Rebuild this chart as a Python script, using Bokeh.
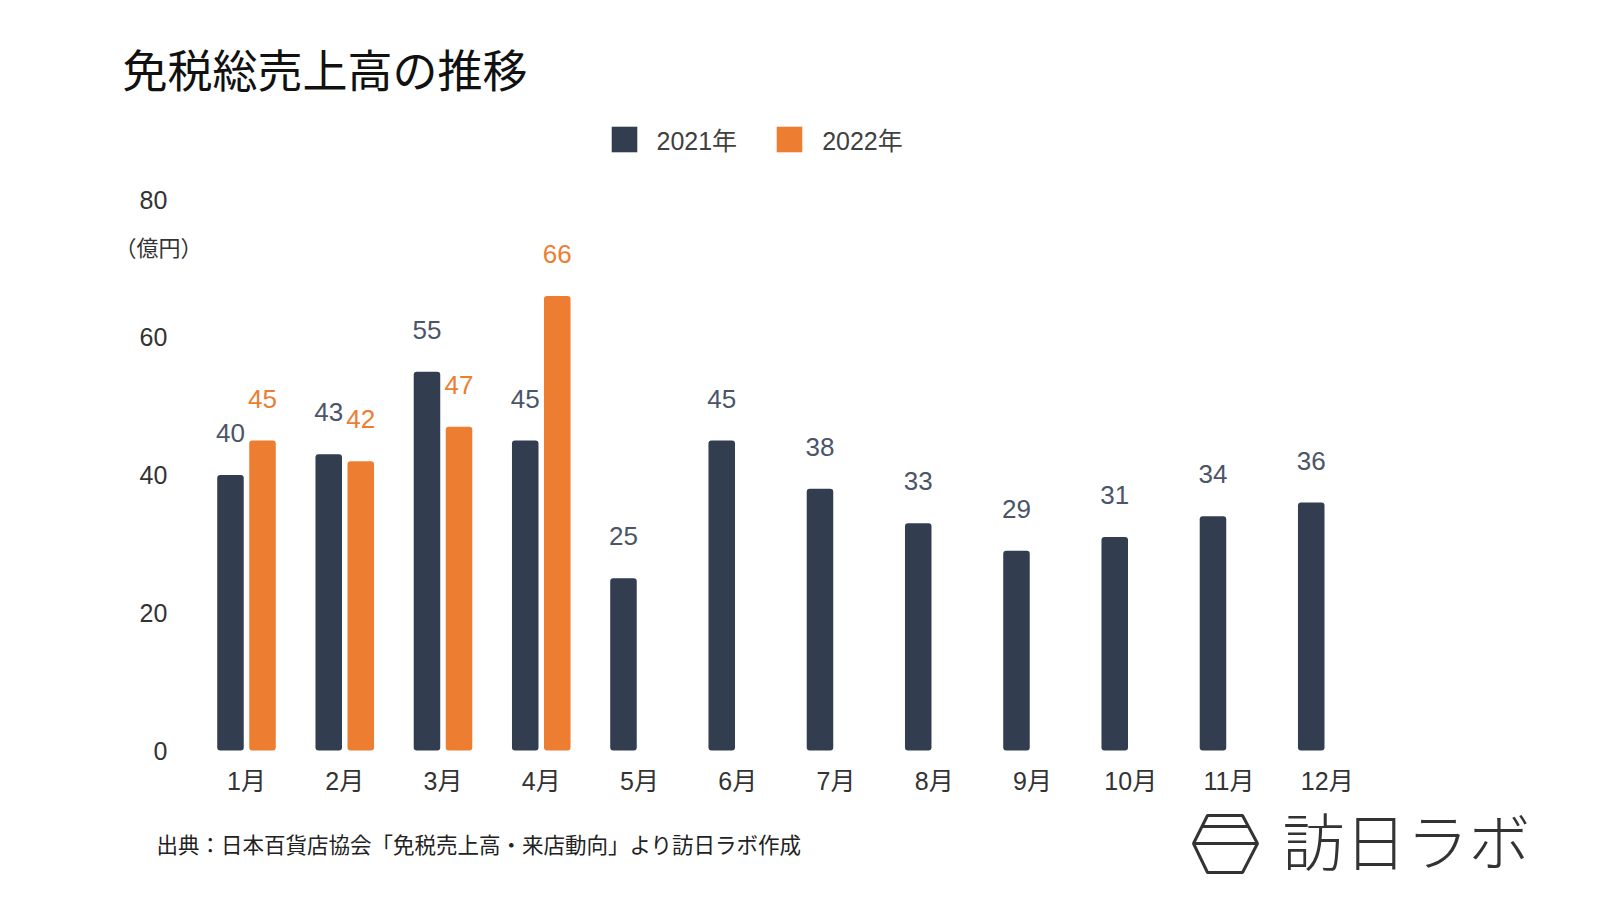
from bokeh.plotting import figure
from bokeh.models import (ColumnDataSource, Range1d, FixedTicker, Legend, LegendItem,
                          Label, PolyAnnotation)
from bokeh.transform import dodge
from bokeh.core.properties import value
from bokeh.embed import file_html
from bokeh.resources import INLINE

# ---- data ----
months = ["1月", "2月", "3月", "4月", "5月", "6月", "7月", "8月", "9月", "10月", "11月", "12月"]
sales_2021 = [40, 43, 55, 45, 25, 45, 38, 33, 29, 31, 34, 36]
months_2022 = ["1月", "2月", "3月", "4月"]
sales_2022 = [45, 42, 47, 66]
y_ticks = [0, 20, 40, 60, 80]
series_names = ["2021年", "2022年"]

title_text = "免税総売上高の推移"
unit_text = "（億円）"
source_text = "出典：日本百貨店協会「免税売上高・来店動向」より訪日ラボ作成"
logo_text = "訪日ラボ"

# ---- styling / layout ----
NAVY = "#323e50"
ORANGE = "#ed7d31"
NAVY_LBL = "#4a5568"
FONT = "'Liberation Sans', 'Noto Sans CJK JP', sans-serif"
JP = "'Noto Sans CJK JP', sans-serif"

W, H = 1584, 884
CAT_PX = 98.25          # pixels per month slot
FIRST_CX = 246          # page x of first month centre
ZERO_PY = 750           # page y of value 0
UNIT_PX = 551 / 80      # pixels per unit value

pos = {m: i + 1 for i, m in enumerate(months)}
src21 = ColumnDataSource(dict(pos=[pos[m] for m in months], val=sales_2021,
                              lbl=[str(v) for v in sales_2021]))
src22 = ColumnDataSource(dict(pos=[pos[m] for m in months_2022], val=sales_2022,
                              lbl=[str(v) for v in sales_2022]))

x0 = 1 - FIRST_CX / CAT_PX
y0 = -(H - ZERO_PY) / UNIT_PX
p = figure(width=W, height=H, output_backend="svg", toolbar_location=None,
           x_range=Range1d(x0, x0 + W / CAT_PX), y_range=Range1d(y0, y0 + H / UNIT_PX),
           min_border=0, title_location=None)
p.background_fill_color = "white"
p.border_fill_color = "white"
p.outline_line_color = None
p.xgrid.grid_line_color = None
p.ygrid.grid_line_color = None

OFF = 0.163
BW = 0.27
r21 = p.vbar(x=dodge("pos", -OFF), top="val", width=BW, source=src21,
             fill_color=NAVY, line_color=None, border_radius=3)
r22 = p.vbar(x=dodge("pos", OFF), top="val", width=BW, source=src22,
             fill_color=ORANGE, line_color=None, border_radius=3)

p.text(x=dodge("pos", -OFF), y="val", text="lbl", source=src21,
       text_align="center", text_baseline="middle", y_offset=-42,
       text_font=value(FONT), text_font_size="26px", text_color=NAVY_LBL)
p.text(x=dodge("pos", OFF), y="val", text="lbl", source=src22,
       text_align="center", text_baseline="middle", y_offset=-42,
       text_font=value(FONT), text_font_size="26px", text_color=ORANGE)

# axes
for ax in (p.xaxis[0], p.yaxis[0]):
    ax.axis_line_color = None
    ax.major_tick_line_color = None
    ax.minor_tick_line_color = None
    ax.major_tick_out = 0
    ax.major_tick_in = 0
    ax.major_label_text_font = FONT
    ax.major_label_text_font_size = "25px"
    ax.major_label_text_color = "#333333"
p.yaxis.ticker = FixedTicker(ticks=y_ticks)
p.yaxis.major_label_standoff = 30
p.yaxis.fixed_location = 0.5
p.xaxis.ticker = FixedTicker(ticks=[pos[m] for m in months])
p.xaxis.major_label_overrides = {pos[m]: m for m in months}
p.xaxis.major_label_standoff = 16
p.xaxis.fixed_location = 0


def sx(px):
    return px


def sy(py):
    return H - py


legend = Legend(items=[LegendItem(label=series_names[0], renderers=[r21]),
                       LegendItem(label=series_names[1], renderers=[r22])],
                orientation="horizontal", location=(sx(607.5), sy(157)),
                glyph_width=32, glyph_height=32, label_height=32, label_standoff=17, spacing=36,
                padding=0, margin=0, border_line_color=None, background_fill_alpha=0,
                label_text_font=FONT, label_text_font_size="25px", label_text_color="#404040")
p.add_layout(legend, "center")

p.add_layout(Label(x=sx(122), y=sy(68), x_units="screen", y_units="screen", text=title_text,
                   text_font=JP, text_font_size="45px", text_color="#111111",
                   text_baseline="middle", text_align="left"))
p.add_layout(Label(x=sx(158), y=sy(245), x_units="screen", y_units="screen", text=unit_text,
                   text_font=JP, text_font_size="22px", text_color="#333333",
                   text_baseline="middle", text_align="center"))
p.add_layout(Label(x=sx(156), y=sy(843), x_units="screen", y_units="screen", text=source_text,
                   text_font=JP, text_font_size="21.5px", text_color="#222222",
                   text_baseline="middle", text_align="left"))
p.add_layout(Label(x=sx(1282), y=sy(838), x_units="screen", y_units="screen", text=logo_text,
                   text_font="'Noto Sans CJK JP Light', 'Noto Sans CJK JP', sans-serif",
                   text_font_size="62px", text_color="#333333",
                   text_baseline="middle", text_align="left"))

# logo icon
hex_px = [1207, 1242, 1257, 1242, 1207, 1193]
hex_py = [815, 815, 843, 872, 872, 843]
p.add_layout(PolyAnnotation(xs=[sx(v) for v in hex_px], ys=[sy(v) for v in hex_py],
                            xs_units="screen", ys_units="screen",
                            fill_alpha=0, line_color="#333333", line_alpha=1, line_width=3))
for (xa, xb, yy) in [(1202, 1248, 826), (1193, 1257, 843)]:
    p.add_layout(PolyAnnotation(xs=[sx(xa), sx(xb)], ys=[sy(yy), sy(yy)],
                                xs_units="screen", ys_units="screen",
                                fill_alpha=0, line_color="#333333", line_alpha=1, line_width=3))

open("out.html", "w").write(file_html(p, INLINE))
